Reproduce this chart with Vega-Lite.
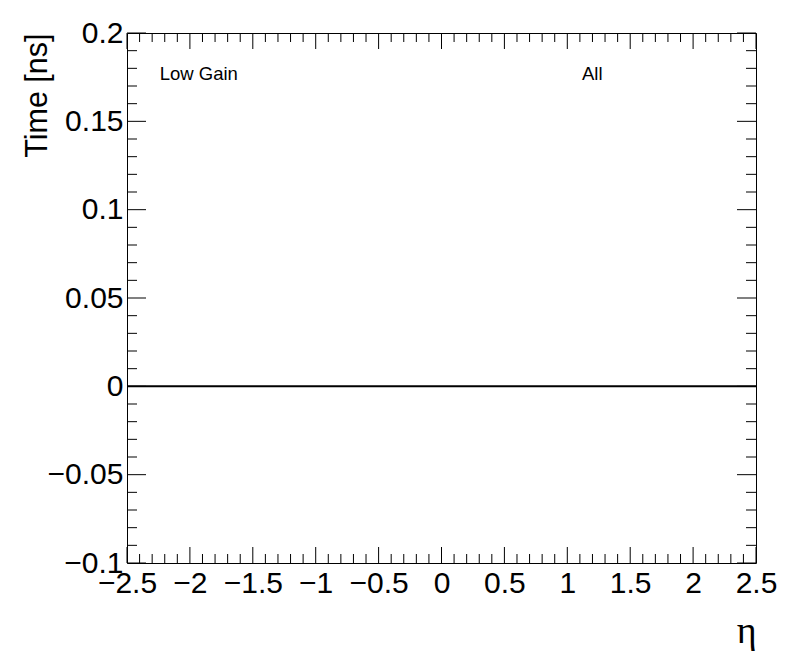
{
  "$schema": "https://vega.github.io/schema/vega-lite/v6.json",
  "width": 629,
  "height": 530,
  "autosize": "none",
  "padding": {"left": 127, "top": 33, "right": 40, "bottom": 109},
  "background": "white",
  "config": {
    "view": {"stroke": "black", "strokeWidth": 1},
    "font": "Liberation Sans"
  },
  "datasets": {
    "xmajor": [{"v": -2.5}, {"v": -2}, {"v": -1.5}, {"v": -1}, {"v": -0.5}, {"v": 0}, {"v": 0.5}, {"v": 1}, {"v": 1.5}, {"v": 2}, {"v": 2.5}],
    "xminor": [{"v": -2.4}, {"v": -2.3}, {"v": -2.2}, {"v": -2.1}, {"v": -1.9}, {"v": -1.8}, {"v": -1.7}, {"v": -1.6}, {"v": -1.4}, {"v": -1.3}, {"v": -1.2}, {"v": -1.1}, {"v": -0.9}, {"v": -0.8}, {"v": -0.7}, {"v": -0.6}, {"v": -0.4}, {"v": -0.3}, {"v": -0.2}, {"v": -0.1}, {"v": 0.1}, {"v": 0.2}, {"v": 0.3}, {"v": 0.4}, {"v": 0.6}, {"v": 0.7}, {"v": 0.8}, {"v": 0.9}, {"v": 1.1}, {"v": 1.2}, {"v": 1.3}, {"v": 1.4}, {"v": 1.6}, {"v": 1.7}, {"v": 1.8}, {"v": 1.9}, {"v": 2.1}, {"v": 2.2}, {"v": 2.3}, {"v": 2.4}],
    "ymajor": [{"v": -0.1}, {"v": -0.05}, {"v": 0}, {"v": 0.05}, {"v": 0.1}, {"v": 0.15}, {"v": 0.2}],
    "yminor": [{"v": -0.09}, {"v": -0.08}, {"v": -0.07}, {"v": -0.06}, {"v": -0.04}, {"v": -0.03}, {"v": -0.02}, {"v": -0.01}, {"v": 0.01}, {"v": 0.02}, {"v": 0.03}, {"v": 0.04}, {"v": 0.06}, {"v": 0.07}, {"v": 0.08}, {"v": 0.09}, {"v": 0.11}, {"v": 0.12}, {"v": 0.13}, {"v": 0.14}, {"v": 0.16}, {"v": 0.17}, {"v": 0.18}, {"v": 0.19}],
    "labels": [{"label": "Low Gain", "x": -2.24, "y": 0.1734}, {"label": "All", "x": 1.117, "y": 0.1734}]
  },
  "layer": [
    {
      "data": {"name": "xmajor"},
      "mark": {"type": "tick", "orient": "vertical", "size": 16, "thickness": 1, "color": "black", "yOffset": -8, "opacity": 1},
      "encoding": {
        "x": {"field": "v", "type": "quantitative",
          "scale": {"domain": [-2.5, 2.5], "nice": false, "zero": false},
          "axis": {"values": [-2.5, -2, -1.5, -1, -0.5, 0, 0.5, 1, 1.5, 2, 2.5], "format": "~g", "labelExpr": "replace(datum.label, '-', '\u2212')", "ticks": false, "domain": false, "grid": false, "labelFontSize": 30, "labelColor": "black", "labelPadding": 5, "labelFlush": false, "labelOverlap": false, "labelBound": false, "title": "\u03b7", "titleFont": "Liberation Serif", "titleFontSize": 38, "titleFontWeight": "normal", "titleColor": "black", "titleAnchor": "end", "titlePadding": 14}},
        "y": {"datum": -0.1, "type": "quantitative",
          "scale": {"domain": [-0.1, 0.2], "nice": false, "zero": false},
          "axis": {"values": [-0.1, -0.05, 0, 0.05, 0.1, 0.15, 0.2], "format": "~g", "labelExpr": "replace(datum.label, '-', '\u2212')", "ticks": false, "domain": false, "grid": false, "labelFontSize": 30, "labelColor": "black", "labelPadding": 4, "labelFlush": false, "labelOverlap": false, "labelBound": false, "title": "Time [ns]", "titleFontSize": 30.5, "titleFontWeight": "normal", "titleColor": "black", "titleAngle": -90, "titleX": -90, "titleY": 0, "titleAlign": "right", "titleBaseline": "middle"}}
      }
    },
    {
      "data": {"name": "xmajor"},
      "mark": {"type": "tick", "orient": "vertical", "size": 16, "thickness": 1, "color": "black", "yOffset": 8, "opacity": 1},
      "encoding": {"x": {"field": "v", "type": "quantitative"}, "y": {"datum": 0.2, "type": "quantitative"}}
    },
    {
      "data": {"name": "xminor"},
      "mark": {"type": "tick", "orient": "vertical", "size": 9, "thickness": 1, "color": "black", "yOffset": -4.5, "opacity": 1},
      "encoding": {"x": {"field": "v", "type": "quantitative"}, "y": {"datum": -0.1, "type": "quantitative"}}
    },
    {
      "data": {"name": "xminor"},
      "mark": {"type": "tick", "orient": "vertical", "size": 9, "thickness": 1, "color": "black", "yOffset": 4.5, "opacity": 1},
      "encoding": {"x": {"field": "v", "type": "quantitative"}, "y": {"datum": 0.2, "type": "quantitative"}}
    },
    {
      "data": {"name": "ymajor"},
      "mark": {"type": "tick", "orient": "horizontal", "size": 19, "thickness": 1, "color": "black", "xOffset": 9.5, "opacity": 1},
      "encoding": {"y": {"field": "v", "type": "quantitative"}, "x": {"datum": -2.5, "type": "quantitative"}}
    },
    {
      "data": {"name": "ymajor"},
      "mark": {"type": "tick", "orient": "horizontal", "size": 19, "thickness": 1, "color": "black", "xOffset": -9.5, "opacity": 1},
      "encoding": {"y": {"field": "v", "type": "quantitative"}, "x": {"datum": 2.5, "type": "quantitative"}}
    },
    {
      "data": {"name": "yminor"},
      "mark": {"type": "tick", "orient": "horizontal", "size": 10, "thickness": 1, "color": "black", "xOffset": 5, "opacity": 1},
      "encoding": {"y": {"field": "v", "type": "quantitative"}, "x": {"datum": -2.5, "type": "quantitative"}}
    },
    {
      "data": {"name": "yminor"},
      "mark": {"type": "tick", "orient": "horizontal", "size": 10, "thickness": 1, "color": "black", "xOffset": -5, "opacity": 1},
      "encoding": {"y": {"field": "v", "type": "quantitative"}, "x": {"datum": 2.5, "type": "quantitative"}}
    },
    {
      "data": {"values": [{}]},
      "mark": {"type": "rule", "color": "black", "strokeWidth": 2},
      "encoding": {"y": {"datum": 0, "type": "quantitative"}}
    },
    {
      "data": {"name": "labels"},
      "mark": {"type": "text", "align": "left", "baseline": "alphabetic", "fontSize": 18.5, "color": "black"},
      "encoding": {
        "x": {"field": "x", "type": "quantitative"},
        "y": {"field": "y", "type": "quantitative"},
        "text": {"field": "label"}
      }
    }
  ]
}
